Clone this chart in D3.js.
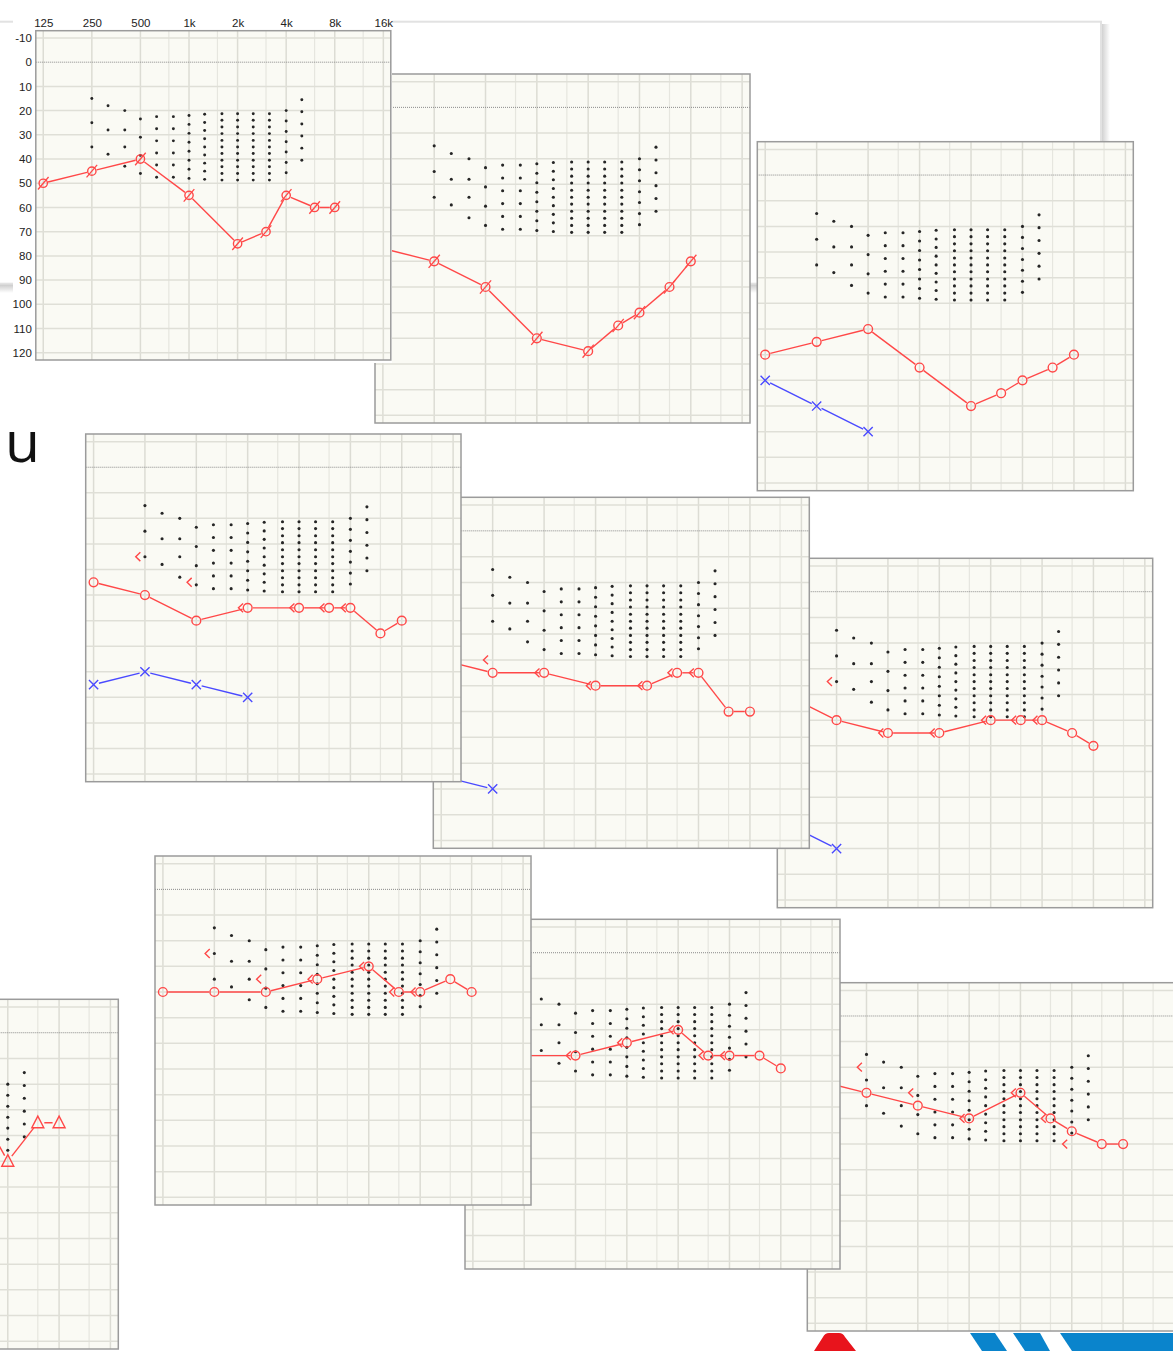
<!DOCTYPE html>
<html><head><meta charset="utf-8">
<script src="https://cdn.jsdelivr.net/npm/d3@7"></script>
<style>body{margin:0;background:#fff;overflow:hidden}svg{display:block}</style>
</head><body>
<svg id="c" width="1173" height="1351"></svg>
<script>
// ---------------- data ----------------
const freqTicks = [125, 250, 500, 1000, 2000, 4000, 8000, 16000];
const freqTickLabels = ["125", "250", "500", "1k", "2k", "4k", "8k", "16k"];
const interOctaveFreqs = [750, 1500, 3000, 6000, 12000];
const dbTicks = [-10, 0, 10, 20, 30, 40, 50, 60, 70, 80, 90, 100, 110, 120];
const testFreqs = [125, 250, 500, 1000, 2000, 3000, 4000, 6000, 8000];
const boneFreqs = [250, 500, 1000, 2000, 3000, 4000];

// count-the-dots speech pattern (100 dots)
const dotFreqs = [250, 315, 400, 500, 630, 800, 1000, 1250, 1600, 2000, 2500, 3150, 4000, 5000];
const dotLevels = [
  [15, 25, 35],
  [18, 28, 38],
  [20, 28, 35, 43],
  [23.5, 31, 38.5, 46],
  [22.5, 27.5, 32.5, 37.5, 42.5, 47.5],
  [22.5, 27.5, 32.5, 37.5, 42.5, 47.5],
  [22, 25.7, 29.4, 33.1, 36.8, 40.5, 44.2, 48],
  [21.5, 24.9, 28.2, 31.6, 35, 38.3, 41.7, 45, 48.4],
  [21.3, 24, 26.8, 29.5, 32.3, 35, 37.7, 40.5, 43.2, 46, 48.7],
  [21.3, 24, 26.8, 29.5, 32.3, 35, 37.7, 40.5, 43.2, 46, 48.7],
  [21.3, 24, 26.8, 29.5, 32.3, 35, 37.7, 40.5, 43.2, 46, 48.7],
  [21.3, 24, 26.8, 29.5, 32.3, 35, 37.7, 40.5, 43.2, 46, 48.7],
  [20, 24.3, 28.6, 32.9, 37.1, 41.4, 45.7],
  [15.5, 20.5, 25.5, 30.5, 35.5, 40.5]
];

// thresholds (dB HL) per audiogram, at testFreqs
const p1Right = [50, 45, 40, 55, 75, 70, 55, 60, 60];
const p2Right = [55, 60, 70, 90, 95, 85, 80, 70, 60];
const p3Right = [70, 65, 60, 75, 90, 85, 80, 75, 70];
const p3LeftFreqs = [125, 250, 500];
const p3Left = [80, 90, 100];
const p4Right = [45, 50, 60, 55, 55, 55, 55, 65, 60];
const p4LeftFreqs = [125, 250, 500, 1000];
const p4Left = [85, 80, 85, 90];
const p4Bone = [35, 45, 55, 55, 55, 55];
const p5Right = [50, 55, 55, 60, 60, 55, 55, 70, 70];
const p5LeftFreqs = [125, 250];
const p5Left = [95, 100];
const p5Bone = [50, 55, 60, 60, 55, 55];
const p6Right = [40, 50, 55, 55, 50, 50, 50, 55, 60];
const p6LeftFreqs = [125, 250];
const p6Left = [90, 100];
const p6Bone = [35, 55, 55, 50, 50, 50];
const p7Freqs = [3000, 4000, 6000, 8000];
const p7Right = [35, 50, 35, 35];
const p8Right = [40, 40, 40, 35, 30, 40, 40, 35, 40];
const p8Bone = [25, 35, 35, 30, 40, 40];
const p9Right = [40, 40, 40, 35, 30, 40, 40, 40, 45];
const p9BoneFreqs = [500, 1000, 2000, 3000, 4000];
const p9Bone = [40, 35, 30, 40, 40];
const p10Right = [25, 30, 35, 40, 30, 40, 45, 50, 50];
const p10Bone = [20, 30, 40, 30, 40, 50];

// ---------------- layout (drawing order: bottom first) ----------------
const RED = "#ff4848", BLUE = "#4a4aff";
const panels = [
  {frame: [375, 74, 375, 349], ac: {f: testFreqs, v: p2Right, sym: "slash"}},
  {frame: [35.8, 30.7, 355, 329.3], labels: true, ac: {f: testFreqs, v: p1Right, sym: "slash"}},
  {frame: [757.3, 141.7, 376, 349], ac: {f: testFreqs, v: p3Right, sym: "o"}, left: {f: p3LeftFreqs, v: p3Left}},
  {frame: [777.3, 558.3, 375.4, 349.4], ac: {f: testFreqs, v: p6Right, sym: "o"}, left: {f: p6LeftFreqs, v: p6Left}, bone: {f: boneFreqs, v: p6Bone}},
  {frame: [433.3, 497.3, 376, 351], ac: {f: testFreqs, v: p5Right, sym: "o"}, left: {f: p5LeftFreqs, v: p5Left}, bone: {f: boneFreqs, v: p5Bone}},
  {frame: [85.7, 434, 375.3, 347.7], ac: {f: testFreqs, v: p4Right, sym: "o"}, left: {f: p4LeftFreqs, v: p4Left}, bone: {f: boneFreqs, v: p4Bone}},
  {frame: [807.3, 982.7, 375, 348.3], ac: {f: testFreqs, v: p10Right, sym: "o"}, bone: {f: boneFreqs, v: p10Bone}},
  {frame: [465, 919.3, 375, 349.7], ac: {f: testFreqs, v: p9Right, sym: "o"}, bone: {f: p9BoneFreqs, v: p9Bone}},
  {frame: [155, 856, 376, 349], ac: {f: testFreqs, v: p8Right, sym: "o"}, bone: {f: boneFreqs, v: p8Bone}},
  {frame: [-256.7, 999.3, 375, 349.7], ac: {f: p7Freqs, v: p7Right, sym: "tri"}}
];

// ---------------- drawing ----------------
const svg = d3.select("#c");
const defs = svg.append("defs");
function lin(id, x2, y2, stops) {
  const g = defs.append("linearGradient").attr("id", id).attr("x1", 0).attr("y1", 0).attr("x2", x2).attr("y2", y2);
  stops.forEach(s => g.append("stop").attr("offset", s[0]).attr("stop-color", s[1]).attr("stop-opacity", s[2]));
}
lin("shR", 1, 0, [[0, "#000", 0.2], [1, "#000", 0]]);
lin("shB", 0, 1, [[0, "#000", 0.22], [1, "#000", 0]]);

// background slide behind the screenshots
svg.append("rect").attr("x", 1101).attr("y", 24).attr("width", 9).attr("height", 268).attr("fill", "url(#shR)");
svg.append("rect").attr("x", -20).attr("y", 284).attr("width", 1130).attr("height", 9).attr("fill", "url(#shB)");
svg.append("rect").attr("x", -20).attr("y", 21.7).attr("width", 1121).attr("height", 262)
  .attr("fill", "#fff").attr("stroke", "#e2e2e2").attr("stroke-width", 2);

svg.append("text").attr("x", 5).attr("y", 462).text("u")
  .attr("font-family", "Open Sans, sans-serif").attr("font-weight", 400)
  .attr("font-size", 57).attr("fill", "#111");

// logos at bottom right
svg.append("path").attr("d", "M814,1351 L823,1337 Q825,1333 829,1333 L839,1333 Q843,1333 845,1337 L856,1351 Z").attr("fill", "#e8141c");
svg.append("path").attr("d", "M970,1333 L995,1333 L1007,1351 L982,1351 Z").attr("fill", "#0a84cc");
svg.append("path").attr("d", "M1013,1333 L1040,1333 L1050,1351 L1025,1351 Z").attr("fill", "#0a84cc");
svg.append("path").attr("d", "M1060,1333 L1173,1333 L1173,1351 L1072,1351 Z").attr("fill", "#0a84cc");

let clipN = 0;
function trimSegs(pts, gap) {
  const segs = [];
  for (let i = 0; i < pts.length - 1; i++) {
    const [x1, y1] = pts[i], [x2, y2] = pts[i + 1];
    const dx = x2 - x1, dy = y2 - y1, L = Math.hypot(dx, dy);
    if (L <= 2 * gap) continue;
    const ux = dx / L, uy = dy / L;
    segs.push([x1 + ux * gap, y1 + uy * gap, x2 - ux * gap, y2 - uy * gap]);
  }
  return segs;
}

function drawPanel(P) {
  const [fx, fy, fw, fh] = P.frame;
  const s = fw / 375;
  const x = d3.scaleLog().base(2).domain([125, 16000]).range([fx + 0.021 * fw, fx + fw - 0.021 * fw]);
  const y = d3.scaleLinear().domain([-13, 123]).range([fy, fy + fh]);
  const root = svg.append("g");

  if (P.labels) {
    root.append("rect").attr("x", 13).attr("y", 11).attr("width", 379).attr("height", 352).attr("fill", "#fff");
    const ax = root.append("g").attr("transform", `translate(0,${fy})`)
      .call(d3.axisTop(x).tickValues(freqTicks).tickFormat((d, i) => freqTickLabels[i]).tickSize(0).tickPadding(3.5));
    const ay = root.append("g").attr("transform", `translate(${fx},0)`)
      .call(d3.axisLeft(y).tickValues(dbTicks).tickFormat(d => String(d)).tickSize(0).tickPadding(4));
    [ax, ay].forEach(a => {
      a.select(".domain").remove();
      a.selectAll("text").attr("font-family", "Liberation Sans, Arial, sans-serif").attr("font-size", 11.5).attr("fill", "#222");
    });
  }

  const id = "clip" + (clipN++);
  root.append("clipPath").attr("id", id).append("rect").attr("x", fx).attr("y", fy).attr("width", fw).attr("height", fh);
  const g = root.append("g").attr("clip-path", `url(#${id})`);

  g.append("rect").attr("x", fx).attr("y", fy).attr("width", fw).attr("height", fh).attr("fill", "#fafaf4");

  g.selectAll(null).data(interOctaveFreqs).join("line")
    .attr("x1", d => x(d)).attr("x2", d => x(d)).attr("y1", fy).attr("y2", fy + fh)
    .attr("stroke", "#e6e6df").attr("stroke-width", 1.2);
  g.selectAll(null).data(freqTicks).join("line")
    .attr("x1", d => x(d)).attr("x2", d => x(d)).attr("y1", fy).attr("y2", fy + fh)
    .attr("stroke", "#dcdcd4").attr("stroke-width", 1.5);
  g.selectAll(null).data(dbTicks.filter(d => d !== 0)).join("line")
    .attr("x1", fx).attr("x2", fx + fw).attr("y1", d => y(d)).attr("y2", d => y(d))
    .attr("stroke", "#dfdfd7").attr("stroke-width", 1.5);
  g.append("line").attr("x1", fx).attr("x2", fx + fw).attr("y1", y(0)).attr("y2", y(0))
    .attr("stroke", "#8a8a8a").attr("stroke-width", 1).attr("stroke-dasharray", "1,1");

  // dots
  const dots = [];
  dotFreqs.forEach((f, i) => dotLevels[i].forEach(v => dots.push([f, v])));
  g.selectAll(null).data(dots).join("circle")
    .attr("cx", d => x(d[0])).attr("cy", d => y(d[1])).attr("r", 1.55 * s).attr("fill", "#262626");

  const r = 4.4 * s;
  // left ear (blue X)
  if (P.left) {
    const pts = P.left.f.map((f, i) => [x(f), y(P.left.v[i])]);
    g.selectAll(null).data(trimSegs(pts, 5.5 * s)).join("line")
      .attr("x1", d => d[0]).attr("y1", d => d[1]).attr("x2", d => d[2]).attr("y2", d => d[3])
      .attr("stroke", BLUE).attr("stroke-width", 1.4);
    const k = 4.6 * s;
    g.selectAll(null).data(pts).join("path")
      .attr("d", d => `M${d[0] - k},${d[1] - k}L${d[0] + k},${d[1] + k}M${d[0] - k},${d[1] + k}L${d[0] + k},${d[1] - k}`)
      .attr("stroke", BLUE).attr("stroke-width", 1.4).attr("fill", "none");
  }
  // right ear AC
  const pts = P.ac.f.map((f, i) => [x(f), y(P.ac.v[i])]);
  const gap = P.ac.sym === "tri" ? 6.5 * s : r + 0.8;
  g.selectAll(null).data(trimSegs(pts, gap)).join("line")
    .attr("x1", d => d[0]).attr("y1", d => d[1]).attr("x2", d => d[2]).attr("y2", d => d[3])
    .attr("stroke", RED).attr("stroke-width", 1.4);
  if (P.ac.sym === "tri") {
    g.selectAll(null).data(pts).join("path")
      .attr("d", d => `M${d[0]},${d[1] - 6.6 * s}L${d[0] + 6 * s},${d[1] + 5 * s}L${d[0] - 6 * s},${d[1] + 5 * s}Z`)
      .attr("stroke", RED).attr("stroke-width", 1.4).attr("fill", "none");
  } else {
    g.selectAll(null).data(pts).join("circle")
      .attr("cx", d => d[0]).attr("cy", d => d[1]).attr("r", r)
      .attr("stroke", RED).attr("stroke-width", 1.4).attr("fill", "none");
    if (P.ac.sym === "slash") {
      g.selectAll(null).data(pts).join("line")
        .attr("x1", d => d[0] - 5.6 * s).attr("y1", d => d[1] + 6.6 * s)
        .attr("x2", d => d[0] + 5.6 * s).attr("y2", d => d[1] - 6.6 * s)
        .attr("stroke", RED).attr("stroke-width", 1.3);
    }
  }
  // bone conduction "<"
  if (P.bone) {
    const bp = P.bone.f.map((f, i) => [x(f), y(P.bone.v[i])]);
    g.selectAll(null).data(bp).join("path")
      .attr("d", d => `M${d[0] - 4.6 * s},${d[1] - 4.4 * s}L${d[0] - 9.2 * s},${d[1]}L${d[0] - 4.6 * s},${d[1] + 4.4 * s}`)
      .attr("stroke", RED).attr("stroke-width", 1.4).attr("fill", "none");
  }

  root.append("rect").attr("x", fx).attr("y", fy).attr("width", fw).attr("height", fh)
    .attr("fill", "none").attr("stroke", "#9b9b9b").attr("stroke-width", 1.5);
}

panels.forEach(drawPanel);
</script>
</body></html>
